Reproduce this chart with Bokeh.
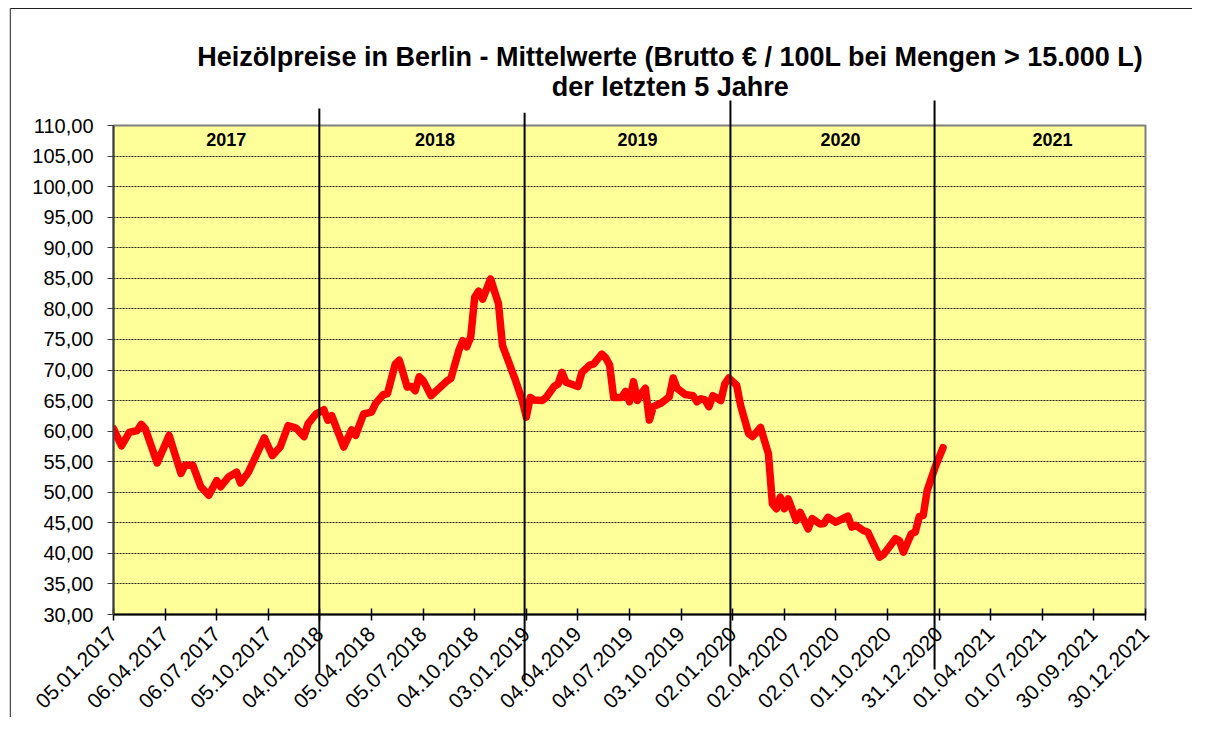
import math
import pandas as pd
from bokeh.plotting import figure
from bokeh.models import Range1d, FixedTicker, DatetimeTickFormatter, Label
from bokeh.core.properties import value
from bokeh.embed import file_html
from bokeh.resources import INLINE

# ---------------- data ----------------
dates = [
    "2017-01-05", "2017-01-19", "2017-02-02", "2017-02-16", "2017-02-23", "2017-03-02",
    "2017-03-23", "2017-04-13", "2017-05-04", "2017-05-11", "2017-05-25", "2017-06-08",
    "2017-06-22", "2017-07-06", "2017-07-13", "2017-07-27", "2017-08-10", "2017-08-17",
    "2017-08-31", "2017-09-28", "2017-10-12", "2017-10-26", "2017-11-09", "2017-11-23",
    "2017-12-07", "2017-12-14", "2017-12-28", "2018-01-11", "2018-01-18", "2018-01-25",
    "2018-02-15", "2018-03-01", "2018-03-08", "2018-03-22", "2018-04-05", "2018-04-12",
    "2018-04-26", "2018-05-03", "2018-05-17", "2018-05-24", "2018-05-31", "2018-06-07",
    "2018-06-14", "2018-06-21", "2018-06-28", "2018-07-05", "2018-07-19", "2018-08-16",
    "2018-08-23", "2018-09-06", "2018-09-13", "2018-09-20", "2018-09-27", "2018-10-04",
    "2018-10-11", "2018-10-18", "2018-11-01", "2018-11-15", "2018-11-22", "2018-12-13",
    "2018-12-27", "2019-01-03", "2019-01-10", "2019-01-17", "2019-01-31", "2019-02-07",
    "2019-02-21", "2019-02-28", "2019-03-07", "2019-03-14", "2019-04-04", "2019-04-11",
    "2019-04-25", "2019-05-02", "2019-05-16", "2019-05-23", "2019-05-30", "2019-06-06",
    "2019-06-20", "2019-06-27", "2019-07-04", "2019-07-11", "2019-07-18", "2019-07-25",
    "2019-08-01", "2019-08-08", "2019-08-15", "2019-08-29", "2019-09-12", "2019-09-19",
    "2019-09-26", "2019-10-10", "2019-10-24", "2019-10-31", "2019-11-07", "2019-11-14",
    "2019-11-21", "2019-11-28", "2019-12-12", "2019-12-19", "2019-12-26", "2020-01-09",
    "2020-01-16", "2020-01-30", "2020-02-06", "2020-02-20", "2020-03-05", "2020-03-12",
    "2020-03-19", "2020-03-26", "2020-04-02", "2020-04-09", "2020-04-23", "2020-04-30",
    "2020-05-14", "2020-05-21", "2020-06-04", "2020-06-11", "2020-06-18", "2020-07-02",
    "2020-07-23", "2020-07-30", "2020-08-06", "2020-08-20", "2020-08-27", "2020-09-17",
    "2020-09-24", "2020-10-15", "2020-10-22", "2020-10-29", "2020-11-12", "2020-11-19",
    "2020-11-26", "2020-12-03", "2020-12-10", "2020-12-24", "2021-01-07",
]
prices = [
    60.4, 57.6, 59.8, 60.1, 61.1, 60.4,
    54.8, 59.3, 53.1, 54.4, 54.4, 50.9,
    49.5, 51.9, 50.9, 52.5, 53.3, 51.5,
    53.3, 58.9, 56.0, 57.4, 60.9, 60.5,
    59.1, 61.2, 62.8, 63.5, 61.8, 62.5,
    57.4, 60.2, 59.3, 62.8, 63.1, 64.5,
    66.0, 66.1, 71.0, 71.6, 69.4, 67.2,
    67.3, 66.6, 68.9, 68.3, 65.8, 68.2,
    68.6, 73.2, 74.8, 73.8, 75.4, 81.9,
    82.9, 81.6, 84.9, 80.8, 74.0, 68.8,
    65.0, 62.3, 65.5, 65.1, 65.0, 65.5,
    67.3, 67.7, 69.6, 68.0, 67.3, 69.6,
    70.8, 71.0, 72.6, 72.0, 70.8, 65.5,
    65.5, 66.5, 64.8, 68.1, 65.0, 66.2,
    67.0, 61.8, 64.0, 64.6, 65.6, 68.7,
    67.0, 66.0, 65.8, 64.8, 65.3, 65.1,
    64.0, 65.8, 65.0, 67.7, 68.7, 67.5,
    64.2, 59.6, 59.1, 60.6, 56.3, 48.1,
    47.3, 49.2, 47.3, 48.9, 45.4, 46.7,
    44.0, 45.7, 44.8, 44.9, 45.9, 45.1,
    46.1, 44.3, 44.6, 43.7, 43.5, 39.4,
    39.8, 42.4, 42.1, 40.2, 43.2, 43.5,
    46.0, 46.2, 50.3, 54.1, 57.3,
]
x_tick_labels = [
    "05.01.2017", "06.04.2017", "06.07.2017", "05.10.2017", "04.01.2018", "05.04.2018",
    "05.07.2018", "04.10.2018", "03.01.2019", "04.04.2019", "04.07.2019", "03.10.2019",
    "02.01.2020", "02.04.2020", "02.07.2020", "01.10.2020", "31.12.2020", "01.04.2021",
    "01.07.2021", "30.09.2021", "30.12.2021",
]
y_tick_values = [30, 35, 40, 45, 50, 55, 60, 65, 70, 75, 80, 85, 90, 95, 100, 105, 110]
y_tick_labels = ["30,00", "35,00", "40,00", "45,00", "50,00", "55,00", "60,00", "65,00", "70,00",
                 "75,00", "80,00", "85,00", "90,00", "95,00", "100,00", "105,00", "110,00"]
years = ["2017", "2018", "2019", "2020", "2021"]
year_label_dates = ["2017-07-23", "2018-07-26", "2019-07-18", "2020-07-10", "2021-07-19"]
year_line_dates = ["2018-01-03", "2018-12-31", "2019-12-29", "2020-12-23"]
title_lines = ["Heizölpreise in Berlin - Mittelwerte (Brutto € / 100L bei Mengen > 15.000 L)",
               "der letzten 5 Jahre"]

# ---------------- layout / style ----------------
year_line_tops = [112.8, 112.1, 114.1, 114.1]
year_line_bottoms = [20.4, 19.2, 21.5, 21.0]
title_x = "2019-09-14"
title_y = [121.25, 116.35]
border_left_date = "2016-07-07"
border_right_date = "2022-08-01"
border_top = 129.14
border_bottom = 5.0
FONT = "Liberation Sans"


def ms(d):
    return pd.Timestamp(d).value / 1e6


x = pd.to_datetime(dates)
tick_ms = [ms(pd.to_datetime(t, format="%d.%m.%Y")) for t in x_tick_labels]

p = figure(width=1192, height=717, x_axis_type="datetime",
           x_range=Range1d(start=tick_ms[0], end=tick_ms[-1]),
           y_range=Range1d(start=30, end=110),
           output_backend="svg", toolbar_location=None, title=None,
           min_border_left=113, min_border_right=47, min_border_top=125, min_border_bottom=103,
           background_fill_color="#FFFF99", border_fill_color="white")

p.outline_line_color = "#808080"
p.outline_line_width = 2

# grid
p.xgrid.grid_line_color = None
p.ygrid.ticker = FixedTicker(ticks=y_tick_values[1:-1])
p.ygrid.grid_line_color = "black"
p.ygrid.grid_line_width = 1
p.ygrid.grid_line_dash = "2 1"
p.ygrid.grid_line_alpha = 0.85

# y axis
p.yaxis.ticker = FixedTicker(ticks=y_tick_values)
p.yaxis.major_label_overrides = {v: s for v, s in zip(y_tick_values, y_tick_labels)}
p.yaxis.major_tick_in = 0
p.yaxis.major_tick_out = 6
p.yaxis.minor_tick_line_color = None
p.yaxis.axis_line_color = "#404040"
p.yaxis.axis_line_width = 2
p.yaxis.major_tick_line_color = "#404040"
p.yaxis.major_label_text_font = FONT
p.yaxis.major_label_text_font_size = "20px"
p.yaxis.major_label_text_color = "black"
p.yaxis.major_label_standoff = 14

# x axis
p.xaxis.ticker = FixedTicker(ticks=tick_ms)
fmt = "%d.%m.%Y"
p.xaxis.formatter = DatetimeTickFormatter(
    microseconds=fmt, milliseconds=fmt, seconds=fmt, minsec=fmt, minutes=fmt,
    hourmin=fmt, hours=fmt, days=fmt, months=fmt, years=fmt)
p.xaxis.major_label_orientation = math.pi / 4
p.xaxis.major_tick_in = 6
p.xaxis.major_tick_out = 6
p.xaxis.minor_tick_line_color = None
p.xaxis.axis_line_color = "black"
p.xaxis.axis_line_width = 2
p.xaxis.major_tick_line_color = "black"
p.xaxis.major_tick_line_width = 1.5
p.xaxis.major_label_text_font = FONT
p.xaxis.major_label_text_font_size = "21px"
p.xaxis.major_label_text_color = "black"
p.xaxis.major_label_standoff = 10

# price line
p.line(x, prices, line_color="#FF0000", line_width=7.5, line_join="round", line_cap="round")

# year separator lines (extend beyond plot area, so drawn at overlay level)
ylx = [ms(d) for d in year_line_dates]
p.segment(x0=ylx, y0=year_line_bottoms, x1=ylx, y1=year_line_tops,
          line_color="black", line_width=2, level="overlay")

# outer chart border (left and top)
p.segment(x0=[ms(border_left_date), ms(border_left_date)], y0=[border_bottom, border_top],
          x1=[ms(border_left_date), ms(border_right_date)], y1=[border_top, border_top],
          line_color="#222222", line_width=1, level="overlay")

# year labels
for yr, d in zip(years, year_label_dates):
    p.add_layout(Label(x=ms(d), y=107.7, text=yr, text_align="center", text_baseline="middle",
                       text_font=FONT, text_font_size="18px", text_font_style="bold",
                       text_color="black"))

# title (two centred lines above the plot area)
p.text(x=[ms(title_x)] * 2, y=title_y, text=title_lines, text_align="center",
       text_baseline="alphabetic", text_font=value(FONT), text_font_size=value("27px"),
       text_font_style="bold", text_color="black", level="overlay")

open("out.html", "w").write(file_html(p, INLINE))
